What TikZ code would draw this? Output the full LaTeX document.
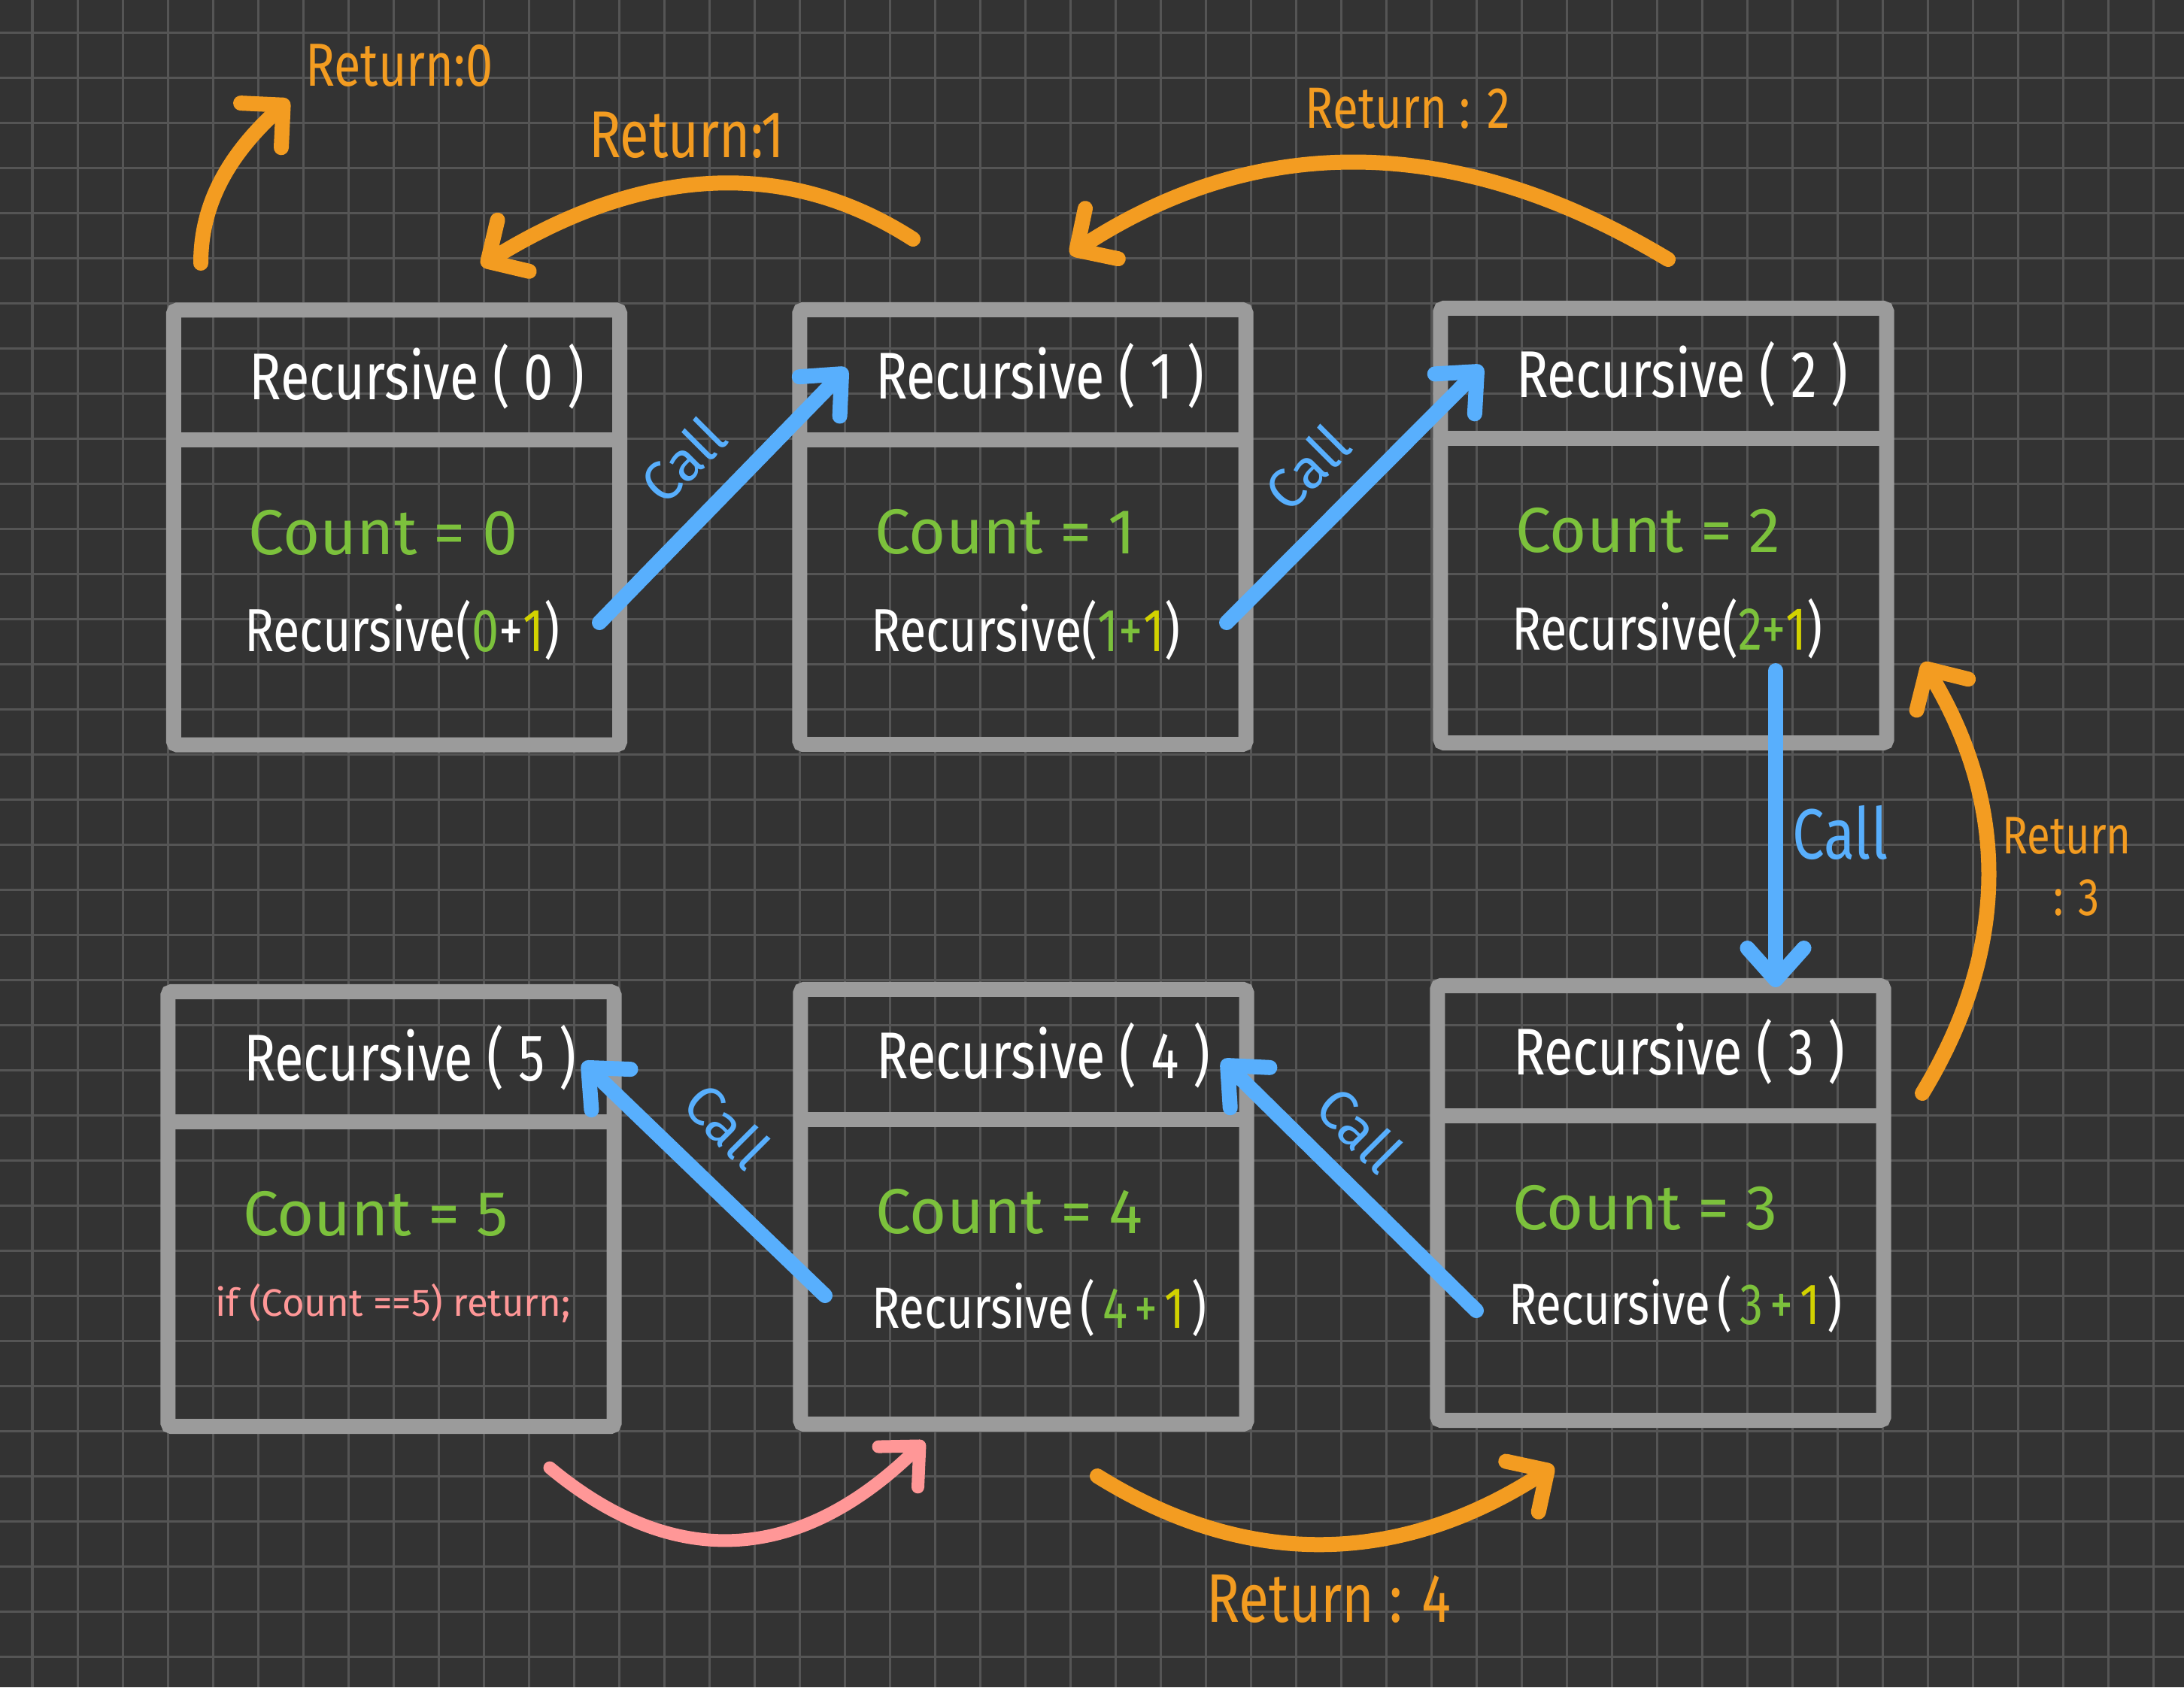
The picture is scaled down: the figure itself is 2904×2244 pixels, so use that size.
\documentclass[tikz,border=0pt]{standalone}
\usepackage{fontspec}
\setmainfont{Fira Sans}
\newfontfamily\hand[FakeStretch=0.8]{Fira Sans}
\newfontfamily\handn{Fira Sans}
\usetikzlibrary{arrows.meta,calc}
\definecolor{bgc}{HTML}{333333}
\definecolor{gridc}{HTML}{555555}
\definecolor{boxc}{HTML}{9B9B9B}
\definecolor{cblue}{HTML}{58AFFD}
\definecolor{corange}{HTML}{F39C21}
\definecolor{cgreen}{HTML}{7CC13C}
\definecolor{cyell}{HTML}{D2D200}
\definecolor{cpink}{HTML}{FF9797}
\newcommand{\gs}{\hspace{0.12em}}
\begin{document}
\begin{tikzpicture}[x=0.01cm,y=-0.01cm,
  box/.style={draw=boxc, line width=0.2cm, rounded corners=0.05cm, minimum width=5.93cm, minimum height=5.78cm, inner sep=0pt, outer sep=0pt},
  divline/.style={draw=boxc, line width=0.2cm},
  head/.style={anchor=west, text=white, inner sep=0pt, font=\hand\fontsize{25}{30}\selectfont},
  cnt/.style={anchor=west, text=cgreen, inner sep=0pt, font=\handn\fontsize{24}{28}\selectfont},
  rec/.style={anchor=west, text=white, inner sep=0pt, font=\hand\fontsize{23}{28}\selectfont},
  recs/.style={anchor=west, text=white, inner sep=0pt, font=\hand\fontsize{22}{26}\selectfont},
  calltxt/.style={text=cblue, inner sep=0pt, font=\handn\fontsize{21}{24}\selectfont},
  rettxt/.style={text=corange, inner sep=0pt},
  callarrow/.style={draw=cblue, line width=0.2cm, line cap=round, -{Straight Barb[length=0.42cm, width=0.75cm, round]}},
  retarrow/.style={draw=corange, line width=0.2cm, line cap=round, -{Straight Barb[length=0.4cm, width=0.8cm, round]}},
  pinkarrow/.style={draw=cpink, line width=0.17cm, line cap=round, -{Straight Barb[length=0.4cm, width=0.75cm, round]}}
]
\useasboundingbox (0,0) rectangle (2904,2244);
\fill[bgc] (0,0) rectangle (2904,2244);
\foreach \i in {0,...,47} \draw[gridc, line width=0.03cm] (43+60*\i,0) -- (43+60*\i,2244);
\foreach \j in {0,...,36} \draw[gridc, line width=0.03cm] (0,43+60*\j) -- (2904,43+60*\j);

% boxes
\node[box] (b0) at (527.5,701.5) {};
\node[box] (b1) at (1360,701) {};
\node[box] (b2) at (2212,699) {};
\node[box] (b3) at (2208,1600) {};
\node[box] (b4) at (1361,1605) {};
\node[box] (b5) at (520,1608) {};
\foreach \b in {b0,b1,b2,b3,b4,b5}
  \draw[divline] ($(\b.north west)+(0,173)$) -- ($(\b.north east)+(0,173)$);

% headers
\node[head] (h0) at ($(b0.north west)+(100,88)$) {Recursive ( 0 )};
\node[head] (h1) at ($(b1.north west)+(100,88)$) {Recursive ( 1 )};
\node[head] (h2) at ($(b2.north west)+(100,88)$) {Recursive ( 2 )};
\node[head] (h3) at ($(b3.north west)+(100,88)$) {Recursive ( 3 )};
\node[head] (h4) at ($(b4.north west)+(100,88)$) {Recursive ( 4 )};
\node[head] (h5) at ($(b5.north west)+(100,88)$) {Recursive ( 5 )};

% counts
\node[cnt] (k0) at ($(b0.north west)+(99,296)$) {Count = 0};
\node[cnt] (k1) at ($(b1.north west)+(99,296)$) {Count = 1};
\node[cnt] (k2) at ($(b2.north west)+(99,296)$) {Count = 2};
\node[cnt] (k3) at ($(b3.north west)+(99,296)$) {Count = 3};
\node[cnt] (k4) at ($(b4.north west)+(99,296)$) {Count = 4};
\node[cnt] (k5) at ($(b5.north west)+(99,296)$) {Count = 5};

% recursive calls
\node[rec] (r0) at ($(b0.north west)+(94,426)$) {Recursive(\textcolor{cgreen}{0}+\textcolor{cyell}{1})};
\node[rec] (r1) at ($(b1.north west)+(94,426)$) {Recursive(\textcolor{cgreen}{1+}\textcolor{cyell}{1})};
\node[rec] (r2) at ($(b2.north west)+(94,426)$) {Recursive(\textcolor{cgreen}{2+}\textcolor{cyell}{1})};
\node[recs] (r3) at ($(b3.north west)+(94,424)$) {Recursive\gs(\gs\textcolor{cgreen}{3\gs+\gs}\textcolor{cyell}{1}\gs)};
\node[recs] (r4) at ($(b4.north west)+(94,424)$) {Recursive\gs(\gs\textcolor{cgreen}{4\gs+\gs}\textcolor{cyell}{1}\gs)};
\node[anchor=west, text=cpink, inner sep=0pt, font=\handn\fontsize{14.5}{17}\selectfont] (r5) at ($(b5.north west)+(62,414)$) {if (Count ==5) return;};

% call arrows
\coordinate (ca1s) at (797,828);  \coordinate (ca1e) at (1126,490);
\coordinate (ca2s) at (1631,828); \coordinate (ca2e) at (1971,487);
\coordinate (ca3s) at (2361,892); \coordinate (ca3e) at (2361,1313);
\coordinate (ca4s) at (1097,1723); \coordinate (ca4e) at (775,1413);
\coordinate (ca5s) at (1963,1743); \coordinate (ca5e) at (1625,1410);
\draw[callarrow] (ca1s) -- (ca1e);
\draw[callarrow] (ca2s) -- (ca2e);
\draw[callarrow] (ca3s) -- (ca3e);
\draw[callarrow] (ca4s) -- (ca4e);
\draw[callarrow] (ca5s) -- (ca5e);
\node[calltxt, rotate=45] (cl1) at (908,612) {Call};
\node[calltxt, rotate=45] (cl2) at (1738,622) {Call};
\node[calltxt, font=\hand\fontsize{27}{30}\selectfont] (cl3) at (2447,1107) {Call};
\node[calltxt, rotate=-45] (cl4) at (967,1497) {Call};
\node[calltxt, rotate=-45] (cl5) at (1808,1502) {Call};

% return arrows
\coordinate (rt0s) at (267,350);  \coordinate (rt0e) at (384,133);
\coordinate (rt1s) at (1214,318); \coordinate (rt1e) at (640,353);
\coordinate (rt2s) at (2218,345); \coordinate (rt2e) at (1423,338);
\coordinate (rt3s) at (2556,1454); \coordinate (rt3e) at (2557,881);
\coordinate (rt4s) at (1459,1963); \coordinate (rt4e) at (2066,1950);
\coordinate (pks) at (731,1952); \coordinate (pke) at (1229,1917);
\draw[retarrow] (rt0s) .. controls (267,270) and (305,205) .. (rt0e);
\draw[retarrow] (rt1s) .. controls (1045,209) and (854,221) .. (rt1e);
\draw[retarrow] (rt2s) .. controls (1939,177) and (1674,174) .. (rt2e);
\draw[retarrow] (rt3s) .. controls (2672,1263) and (2672,1072) .. (rt3e);
\draw[retarrow] (rt4s) .. controls (1658,2087) and (1860,2083) .. (rt4e);
\draw[pinkarrow] (pks) .. controls (897,2090) and (1063,2079) .. (pke);

\node[rettxt, font=\hand\fontsize{23}{26}\selectfont] (l0) at (531,87) {Return:0};
\node[rettxt, font=\hand\fontsize{25}{28}\selectfont] (l1) at (913,180) {Return:1};
\node[rettxt, font=\hand\fontsize{22}{26}\selectfont] (l2) at (1872,144) {Return : 2};
\node[rettxt, font=\hand\fontsize{20}{24}\selectfont] (l3a) at (2748,1112) {Return};
\node[rettxt, font=\hand\fontsize{20}{24}\selectfont] (l3b) at (2761,1194) {: 3};
\node[rettxt, font=\hand\fontsize{26}{30}\selectfont] (l4) at (1767,2126) {Return : 4};
\end{tikzpicture}
\end{document}
